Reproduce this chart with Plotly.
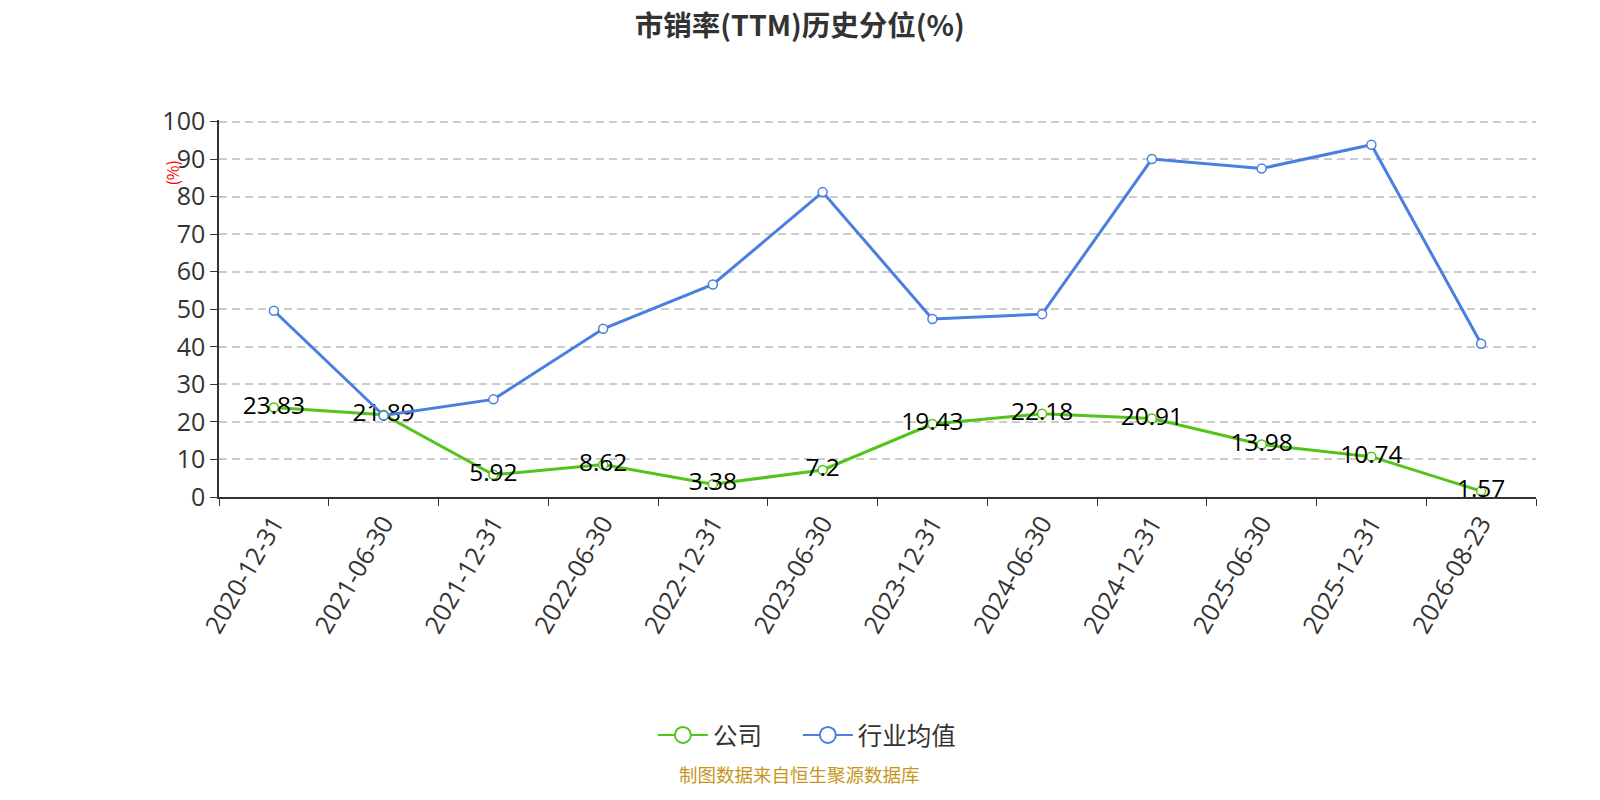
import plotly.graph_objects as go

dates = ["2020-12-31", "2021-06-30", "2021-12-31", "2022-06-30", "2022-12-31", "2023-06-30",
         "2023-12-31", "2024-06-30", "2024-12-31", "2025-06-30", "2025-12-31", "2026-08-23"]
company = [23.83, 21.89, 5.92, 8.62, 3.38, 7.2, 19.43, 22.18, 20.91, 13.98, 10.74, 1.57]
industry = [49.6, 21.7, 26.0, 44.8, 56.6, 81.2, 47.4, 48.7, 90.0, 87.5, 93.8, 40.8]

font_main = "Open Sans, Noto Sans CJK SC"
font_cn = "Noto Sans CJK SC"
green = "#52c41a"
blue = "#4a7fe0"

# the photo comes out at ~0.98 scale with an 8px offset, so convert target pixels to layout px
S, OFF = 0.98, 8
W, H = 1600, 800


def px(p):
    return (p - OFF) / S


L = px(215)
R = W - px(1505)
T = px(118)
B = H - px(487)
pw, ph = W - L - R, H - T - B


def fx(p):
    return (px(p) - L) / pw


def fy(p):
    return (H - B - px(p)) / ph


fig = go.Figure()
fig.add_trace(go.Scatter(
    x=dates, y=company, name="公司", mode="lines+markers+text", showlegend=False,
    line=dict(color=green, width=3),
    marker=dict(symbol="circle", size=9, color="white", line=dict(color=green, width=1.5)),
    text=[str(v) for v in company], textposition="middle center",
    textfont=dict(size=24.5, color="#000", family=font_main),
))
fig.add_trace(go.Scatter(
    x=dates, y=industry, name="行业均值", mode="lines+markers", showlegend=False,
    line=dict(color=blue, width=3),
    marker=dict(symbol="circle", size=9, color="white", line=dict(color=blue, width=1.5)),
))
# legend entries with bigger symbols, one legend box each
for nm, col, lg in [("公司", green, "legend"), ("行业均值", blue, "legend2")]:
    fig.add_trace(go.Scatter(
        x=[None], y=[None], name=nm, mode="lines+markers", legend=lg,
        line=dict(color=col, width=2),
        marker=dict(symbol="circle", size=18, color="white", line=dict(color=col, width=2)),
    ))

leg_common = dict(orientation="h", xanchor="left", y=fy(720), yanchor="middle", itemwidth=50,
                  bgcolor="rgba(0,0,0,0)", font=dict(size=24.5, color="#333", family=font_cn))

fig.update_layout(
    width=W, height=H,
    margin=dict(l=L, r=R, t=T, b=B),
    paper_bgcolor="white", plot_bgcolor="white",
    font=dict(family=font_main, color="#333"),
    title=dict(text="<b>市销率(TTM)历史分位(%)</b>", x=px(784) / W, xanchor="center",
               y=1 - 18.5 / H, yanchor="middle",
               font=dict(size=28.5, color="#333", family=font_cn)),
    showlegend=True,
    legend=dict(x=fx(640), **leg_common),
    legend2=dict(x=fx(782), **leg_common),
    xaxis=dict(type="category", range=[-0.5, 11.5], tickson="boundaries",
               ticks="outside", ticklen=7, tickcolor="#333",
               showline=True, linecolor="#333", linewidth=1.5, showgrid=False,
               tickangle=-60, tickfont=dict(size=25, color="#333")),
    yaxis=dict(range=[0, 100.4], tickvals=[0, 10, 20, 30, 40, 50, 60, 70, 80, 90, 100],
               ticks="outside", ticklen=7, tickcolor="#333",
               showline=True, linecolor="#333", linewidth=1.5,
               showgrid=True, gridcolor="#cccccc", griddash="8px,5px", gridwidth=1.5,
               zeroline=False, tickfont=dict(size=25, color="#333")),
    annotations=[
        dict(text="(%)", x=fx(155), y=fy(155), xref="paper", yref="paper",
             showarrow=False, textangle=-90, font=dict(size=16, color="red", family=font_cn)),
        dict(text="制图数据来自恒生聚源数据库", x=fx(783.5), y=fy(773), xref="paper", yref="paper",
             showarrow=False, font=dict(size=18.5, color="#c8961e", family=font_cn)),
    ],
)

fig.write_html("out.html")
